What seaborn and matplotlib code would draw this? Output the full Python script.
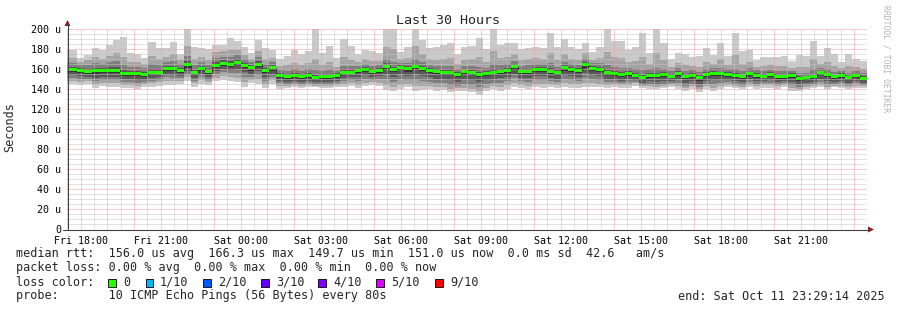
import matplotlib
matplotlib.use("Agg")
import matplotlib.pyplot as plt
import seaborn as sns
import numpy as np
import pandas as pd
from matplotlib.patches import Polygon, Rectangle
from matplotlib.lines import Line2D

# ---------------- data (microseconds, one value per 16-minute step) ----------------
median = [159.3, 159.3, 158.3, 157.3, 158.3, 158.3, 159.0, 159.0, 155.7, 155.7,
          155.7, 154.7, 156.7, 157.0, 160.7, 160.3, 158.7, 164.3, 156.7, 160.7,
          157.3, 164.0, 166.0, 165.0, 167.0, 164.0, 161.3, 165.0, 159.0,
          161.3, 153.7, 152.3, 153.7, 152.7, 153.7, 151.7, 152.7, 152.7, 153.7,
          156.7, 157.0, 158.3, 159.7, 157.7, 159.0, 163.0, 159.7, 161.7, 160.3,
          162.7, 161.0, 159.0, 157.7, 157.0, 157.0, 154.3, 157.3,
          157.0, 155.0, 155.7, 157.0, 158.0, 159.0, 162.3, 158.0, 158.0, 160.0,
          159.7, 158.0, 156.7, 161.3, 159.7, 158.7, 164.3, 160.7, 160.0, 156.7,
          156.0, 154.3, 156.0, 154.0, 151.3, 154.0, 153.3, 154.3,
          153.0, 156.0, 153.0, 154.0, 151.3, 154.7, 156.0, 155.3, 154.7, 153.3,
          152.3, 155.3, 154.0, 153.0, 154.7, 152.7, 152.7, 153.7, 150.7, 151.3,
          152.7, 156.3, 154.3, 152.3, 154.0, 151.3, 153.7, 151.0]
# sorted pings per step: p10 (max) ... p1 (min)
p10 = [179.3, 179.3, 171.0, 174.0, 181.0, 179.0, 184.0, 189.0, 191.7, 175.7,
       175.0, 171.0, 186.7, 181.0, 181.0, 187.0, 175.0, 210.0, 181.7, 180.7,
       180.0, 184.0, 184.3, 190.7, 187.7, 181.7, 175.7, 189.0, 181.0,
       179.0, 170.0, 173.3, 179.0, 175.0, 178.3, 210.0, 175.7, 183.3, 170.7,
       190.0, 182.7, 175.0, 179.0, 177.7, 175.7, 210.0, 210.0, 176.7, 182.3,
       210.0, 189.0, 181.0, 181.7, 184.3, 185.7, 175.0, 182.3,
       183.3, 191.0, 180.0, 210.0, 184.3, 185.7, 186.3, 180.3, 181.0, 182.3,
       181.0, 195.7, 182.3, 189.7, 181.7, 180.0, 186.3, 177.0, 181.7, 210.0,
       188.0, 188.0, 179.0, 182.3, 195.7, 175.7, 210.0, 185.7,
       170.0, 175.7, 175.0, 171.7, 173.3, 181.0, 174.3, 185.7, 173.3, 195.7,
       178.3, 179.0, 169.0, 172.3, 172.3, 172.3, 173.3, 167.7, 174.3, 173.3,
       187.7, 173.3, 181.0, 175.0, 166.7, 175.0, 170.0, 167.7]
p9 = [171, 171, 167, 169, 172, 170, 173, 176, 172, 167, 167, 165, 173, 170, 172, 175,
      169, 183, 170, 172, 169, 177, 178, 179, 179, 174, 170, 178, 170,
      171, 163, 164, 166, 164, 166, 170, 164, 167, 162, 172, 169, 167, 170, 168, 168,
      182, 180, 170, 171, 183, 175, 170, 169, 170, 171, 165, 169,
      170, 172, 167, 178, 171, 172, 175, 169, 170, 171, 170, 176, 169, 175, 170, 169,
      176, 169, 171, 177, 172, 171, 167, 168, 172, 165, 176, 169,
      162, 166, 164, 163, 162, 167, 165, 170, 164, 174, 165, 167, 162, 163, 164, 163,
      163, 161, 162, 162, 170, 165, 167, 163, 161, 163, 162, 160]
p8 = [166, 166, 164, 164, 166, 165, 167, 168, 164, 162, 162, 161, 165, 164, 167, 168,
      165, 173, 164, 167, 164, 171, 172, 172, 174, 170, 167, 172, 165,
      167, 159, 158, 160, 158, 160, 159, 158, 159, 158, 163, 163, 163, 165, 163, 164,
      170, 167, 166, 166, 170, 167, 164, 163, 163, 163, 160, 163,
      163, 162, 161, 165, 164, 165, 168, 163, 164, 165, 165, 166, 162, 167, 165, 164,
      170, 166, 166, 164, 162, 161, 161, 160, 159, 160, 161, 160,
      158, 161, 158, 159, 157, 160, 161, 161, 160, 160, 158, 161, 159, 158, 159, 158,
      158, 158, 156, 156, 160, 161, 160, 157, 158, 156, 158, 156]
p7 = [162, 162, 161, 160, 161, 161, 162, 162, 159, 158, 158, 157, 160, 160, 163, 163,
      161, 168, 159, 163, 160, 167, 169, 168, 170, 166, 164, 168, 161,
      164, 156, 155, 156, 155, 156, 154, 155, 155, 156, 159, 159, 160, 162, 160, 161,
      166, 162, 164, 163, 165, 163, 161, 160, 159, 159, 157, 159,
      159, 157, 158, 160, 160, 161, 165, 160, 160, 162, 162, 161, 159, 164, 162, 161,
      167, 163, 162, 159, 158, 157, 158, 156, 154, 156, 156, 157,
      155, 158, 155, 156, 154, 157, 158, 157, 157, 156, 154, 157, 156, 155, 157, 155,
      155, 156, 153, 153, 155, 158, 156, 154, 156, 153, 155.5, 153]
p6 = [160.5, 160.5, 159.5, 158.5, 159.5, 159.5, 160.5, 160.5, 157, 157, 157, 156, 158,
      158.5, 162, 161.5, 160, 166, 158, 162, 158.5, 165.5, 167.5, 166.5, 168.5, 165.5,
      163, 166.5, 160.5,
      163, 155, 154, 155, 154, 155, 153, 154, 154, 155, 158, 158.5, 159.5, 161, 159,
      160.5, 164.5, 161, 163, 162, 164, 162.5, 160.5, 159, 158.5, 158.5, 156, 158.5,
      158.5, 156.5, 157, 158.5, 159.5, 160.5, 164, 159.5, 159.5, 161.5, 161, 159.5, 158,
      163, 161, 160, 166, 162, 161.5, 158, 157.5, 156, 157.5, 155.5, 153, 155.5, 155, 156,
      154.5, 157.5, 154.5, 155.5, 153, 156, 157.5, 157, 156, 155, 154, 157, 155.5, 154.5,
      156, 154, 154, 155, 152, 152.5, 154, 157.5, 155.5, 153.5, 155, 152.5, 155, 152]
p5 = [157, 157, 156, 155, 155, 156, 156, 156, 153, 153, 153, 152, 154, 155, 158, 158,
      156, 161, 154, 158, 155, 161, 163, 162, 164, 161, 158, 162, 156,
      158, 151, 150, 151, 150, 151, 149, 150, 150, 151, 154, 155, 156, 157, 155, 156,
      160, 157, 159, 157, 160, 158, 156, 155, 154, 154, 152, 155,
      154, 152, 153, 154, 155, 156, 159, 155, 155, 157, 157, 155, 154, 158, 157, 156,
      161, 158, 157, 154, 153, 152, 153, 152, 149, 151, 151, 152,
      151, 153, 150, 151, 148, 152, 153, 153, 152, 151, 150, 153, 151, 151, 152, 150,
      150, 151, 148, 149, 150, 154, 152, 150, 151, 149, 151, 149]
p4 = [154, 154, 153, 152, 151, 152, 152, 152, 150, 150, 149, 149, 151, 152, 155, 154,
      153, 158, 151, 155, 152, 158, 160, 159, 160, 157, 155, 158, 152,
      155, 148, 147, 148, 147, 148, 147, 147, 147, 148, 151, 152, 152, 154, 152, 153,
      155, 152, 155, 153, 155, 153, 152, 150, 150, 149, 147, 150,
      149, 147, 149, 150, 151, 152, 155, 151, 151, 153, 153, 151, 150, 154, 153, 152,
      156, 154, 153, 150, 150, 148, 150, 149, 146, 148, 147, 148,
      148, 150, 146, 148, 145, 148, 149, 149, 149, 148, 147, 150, 148, 148, 149, 147,
      148, 147, 145, 146, 147, 150, 148, 147, 148, 146, 148, 146]
p3 = [151, 151, 150, 150, 148, 149, 149, 149, 147, 147, 146, 147, 148, 149, 152, 151,
      151, 155, 148, 152, 149, 155, 157, 156, 156, 152, 152, 154, 148,
      152, 146, 145, 146, 145, 146, 145, 145, 145, 146, 148, 149, 148, 150, 149, 150,
      150, 147, 150, 149, 149, 148, 147, 146, 146, 144, 143, 145,
      144, 142, 145, 146, 146, 148, 151, 148, 147, 149, 149, 148, 147, 150, 149, 148,
      151, 150, 149, 147, 147, 146, 147, 147, 144, 145, 144, 145,
      146, 146, 143, 145, 142, 145, 145, 146, 147, 145, 144, 147, 145, 146, 146, 145,
      146, 144, 142, 144, 145, 147, 145, 145, 146, 144, 146, 144]
p2 = [148, 148, 147, 148, 145, 146, 146, 146, 144, 144, 143, 145, 146, 147, 148, 148,
      148, 152, 146, 149, 147, 151, 153, 152, 151, 147, 149, 150, 145,
      149, 143, 143, 144, 143, 144, 143.5, 143, 143, 144, 145, 146, 144, 146, 147, 146,
      144, 142, 144, 145, 143, 143, 143, 142, 142, 140, 141, 141,
      140, 138, 141, 143, 142, 144, 146, 144, 143, 145, 145, 145, 144, 146, 145, 145,
      146, 146, 145, 144, 145, 144, 144, 146, 143, 143, 142, 143,
      144, 143, 141, 143, 140, 143, 141, 143, 144, 143, 142, 144, 143, 144, 144, 143,
      144, 141, 140, 142, 143, 144, 142, 143, 143, 142, 143, 143]
p1 = [145.0, 145.0, 144.0, 145.0, 141.0, 143.0, 141.7, 142.3, 141.0, 140.7,
      140.0, 141.7, 142.3, 143.3, 144.3, 144.0, 145.0, 147.7, 142.3, 145.0,
      144.3, 147.7, 149.0, 148.3, 146.7, 141.7, 145.7, 145.0, 141.0,
      145.0, 140.0, 141.0, 141.7, 140.7, 141.7, 141.7, 141.0, 141.0, 141.7,
      142.3, 143.3, 141.0, 143.3, 144.3, 143.3, 139.0, 138.3, 140.0, 141.7,
      138.3, 139.0, 140.0, 138.3, 139.0, 136.7, 138.3, 138.3,
      136.7, 134.3, 138.3, 140.0, 138.3, 140.0, 141.7, 141.0, 140.0, 141.7,
      141.0, 141.7, 141.0, 141.7, 140.7, 141.0, 141.7, 142.3, 141.7, 141.0,
      141.7, 141.0, 141.0, 143.3, 141.0, 140.0, 140.0, 141.0,
      141.7, 140.0, 138.3, 140.0, 136.7, 140.0, 138.3, 140.0, 141.7, 141.0,
      140.0, 141.7, 140.0, 141.0, 141.0, 140.0, 141.7, 138.3, 138.3, 140.0,
      141.0, 141.7, 140.0, 141.7, 141.0, 140.0, 141.0, 141.0]

x_tick_labels = ["Fri 18:00", "Fri 21:00", "Sat 00:00", "Sat 03:00", "Sat 06:00",
                 "Sat 09:00", "Sat 12:00", "Sat 15:00", "Sat 18:00", "Sat 21:00"]
y_tick_values = [0, 20, 40, 60, 80, 100, 120, 140, 160, 180, 200]
y_tick_labels = ["0", "20 u", "40 u", "60 u", "80 u", "100 u", "120 u", "140 u",
                 "160 u", "180 u", "200 u"]
loss_labels = ["0", "1/10", "2/10", "3/10", "4/10", "5/10", "9/10"]
loss_colors = ["#26ff00", "#00b8ff", "#0059ff", "#5e00ff", "#7e00ff", "#dd00ff", "#ff0000"]
smoke_colors = ["#cacaca", "#a4a4a4", "#7e7e7e", "#585858", "#323232"]

# ---------------- layout helpers ----------------
W, H = 897, 310
STEP_H = 16 / 60.0          # hours per consolidated step
FIRST_EDGE = -0.147          # hours relative to window start (Fri 17:29:14)
FIRST_LABEL = 0.5128         # Fri 18:00 in hours from window start

sns.set_theme(style="white")
plt.rcParams['font.family'] = ['DejaVu Sans Mono', 'DejaVu Sans']

fig = plt.figure(figsize=(W / 100, H / 100), dpi=100)
fig.patch.set_facecolor("white")
ax = fig.add_axes([67 / W, 1 - 229 / H, 800 / W, 200 / H])
ax.set_facecolor("white")

n = len(median)
df = pd.DataFrame({"t": FIRST_EDGE + np.arange(n) * STEP_H, "median": median,
                   "p1": p1, "p2": p2, "p3": p3, "p4": p4, "p5": p5,
                   "p6": p6, "p7": p7, "p8": p8, "p9": p9, "p10": p10})
edges = np.append(df["t"].values, df["t"].values[-1] + STEP_H)

def ext(a):
    a = np.asarray(a, dtype=float)
    return np.append(a, a[-1])

# smoke: pair i spans ping i .. ping (11-i)
for i, col in enumerate(smoke_colors, start=1):
    ax.fill_between(edges, ext(df[f"p{i}"]), ext(df[f"p{11 - i}"]), step="post",
                    color=col, lw=0, zorder=2 + 0.1 * i)

ax.set_xlim(0, 30)
ax.set_ylim(0, 200)

# grid (dotted, drawn over the smoke like rrdtool)
GRID_KW = dict(lw=0.72, ls=(0, (1, 1)), snap=True)
maj_x = FIRST_LABEL + np.arange(0, 30)
min_x = FIRST_LABEL - 0.5 + np.arange(0, 31)
for xv in min_x:
    if 0 < xv < 30:
        ax.axvline(xv, color="#c4c4c4", zorder=3, **GRID_KW)
for yv in range(5, 200, 5):
    if yv % 20:
        ax.axhline(yv, color="#c4c4c4", zorder=3, **GRID_KW)
for xv in maj_x:
    ax.axvline(xv, color="#f29a9a", zorder=3.1, **GRID_KW)
for yv in range(20, 201, 20):
    ax.axhline(yv, color="#f29a9a", zorder=3.1, **GRID_KW)

# median: thin dark step + green blocks
sns.lineplot(x=edges, y=ext(df["median"]), drawstyle="steps-post", color="#202020",
             lw=0.5, ax=ax, zorder=3.5, legend=False)
ax.fill_between(edges, ext(df["median"]) - 1.5, ext(df["median"]) + 1.5, step="post",
                color=loss_colors[0], lw=0, zorder=4)

for s in ax.spines.values():
    s.set_visible(False)

ax.set_xticks(FIRST_LABEL + 3 * np.arange(len(x_tick_labels)))
ax.set_xticklabels(x_tick_labels, fontsize=7.2, color="#000000")
ax.set_yticks(y_tick_values)
ax.set_yticklabels(y_tick_labels, fontsize=7.2, color="#000000")
ax.tick_params(axis="both", length=2, width=0.7, color="#f29a9a", pad=2)
ax.tick_params(axis="x", pad=3)
ax.set_xlabel("")
ax.set_ylabel("")

def fx(px):
    return px / W

def fy(py):
    return 1 - py / H

# axes lines and arrows
fig.add_artist(Line2D([fx(67.5), fx(67.5)], [fy(229), fy(24)], color="#404040", lw=0.8))
fig.add_artist(Line2D([fx(63), fx(869)], [fy(229.5), fy(229.5)], color="#404040", lw=0.8))
fig.add_artist(Polygon([[fx(64.5), fy(26)], [fx(70.5), fy(26)], [fx(67.5), fy(20)]],
                       closed=True, color="#8b1c1c", lw=0))
fig.add_artist(Polygon([[fx(868), fy(226.5)], [fx(868), fy(232.5)], [fx(874), fy(229.5)]],
                       closed=True, color="#8b1c1c", lw=0))

# titles
fig.text(fx(448), fy(20), "Last 30 Hours", ha="center", va="center", fontsize=9.6)
fig.text(fx(10), fy(127), "Seconds", ha="center", va="center", rotation=90, fontsize=8.5)
fig.text(fx(886), fy(59), "RRDTOOL / TOBI OETIKER", ha="center", va="center",
         rotation=270, fontsize=5.8, color="#b4b4b4")

# legend block
LF = 8.5
fig.text(fx(16), fy(254), "median rtt:  156.0 us avg  166.3 us max  149.7 us min  "
         "151.0 us now  0.0 ms sd  42.6   am/s", ha="left", va="center", fontsize=LF)
fig.text(fx(16), fy(268), "packet loss: 0.00 % avg  0.00 % max  0.00 % min  0.00 % now",
         ha="left", va="center", fontsize=LF)
fig.text(fx(16), fy(282), "loss color:", ha="left", va="center", fontsize=LF)
box_x = [108.3, 145.7, 203.3, 261.0, 318.3, 376.0, 435.0]
lab_x = [123.3, 160.0, 218.3, 276.0, 333.3, 390.7, 450.7]
for bx, lx, lab, col in zip(box_x, lab_x, loss_labels, loss_colors):
    fig.add_artist(Rectangle((fx(bx), fy(286.5)), 7.5 / W, 7.5 / H, facecolor=col,
                             edgecolor="#000000", lw=0.6, transform=fig.transFigure))
    fig.text(fx(lx), fy(282), lab, ha="left", va="center", fontsize=LF)
fig.text(fx(16), fy(296), "probe:       10 ICMP Echo Pings (56 Bytes) every 80s",
         ha="left", va="center", fontsize=LF)
fig.text(fx(678), fy(296), "end: Sat Oct 11 23:29:14 2025", ha="left", va="center",
         fontsize=LF)

fig.savefig("out.png", dpi=100, facecolor="white")
